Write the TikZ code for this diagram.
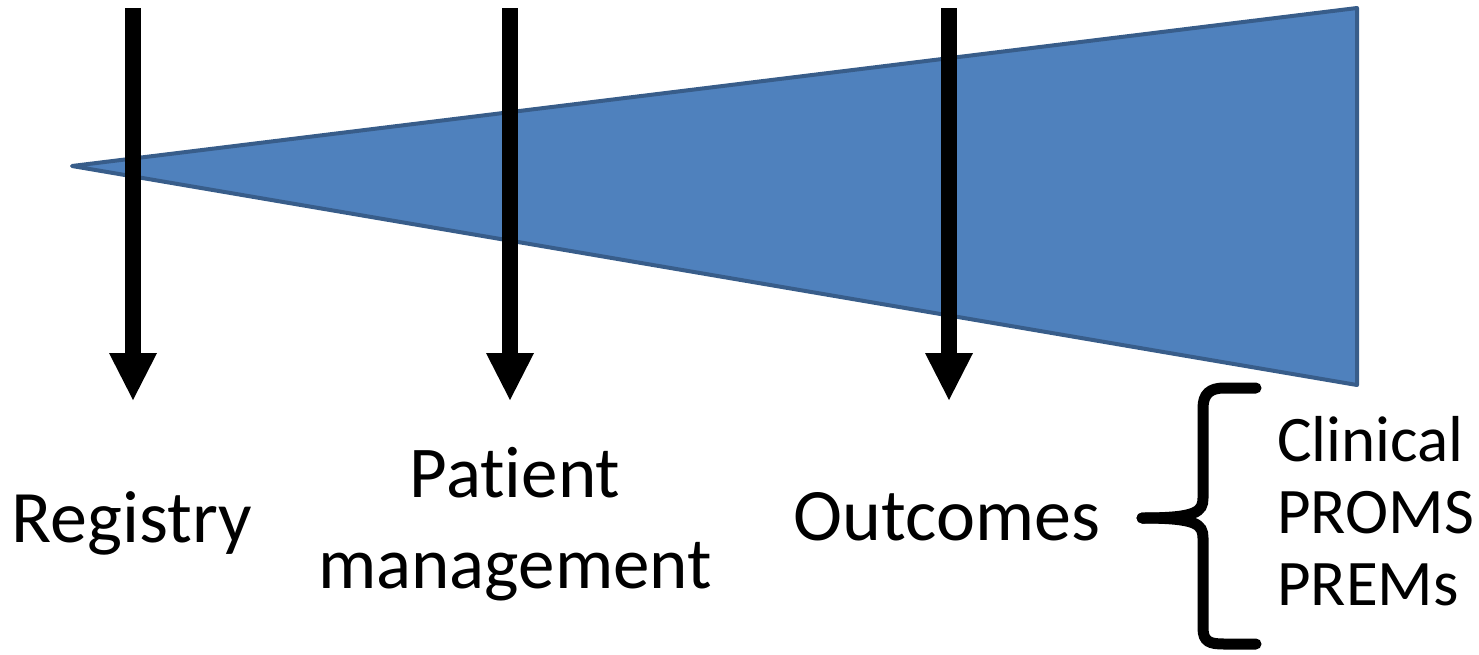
\documentclass[tikz,border=0pt]{standalone}
\usepackage{fontspec}
\setmainfont{Carlito}[Ligatures=NoCommon]
\usetikzlibrary{arrows.meta}
\definecolor{wedgefill}{HTML}{4F81BD}
\definecolor{wedgeline}{HTML}{385D8A}
\tikzset{
  bigarrow/.style={line width=16pt, -{Triangle[length=47pt,width=48pt,line width=0pt]}},
  bigtext/.style={anchor=base, inner sep=0pt, font=\fontsize{74}{88}\selectfont},
  midtext/.style={anchor=base, inner sep=0pt, align=center, font=\fontsize{73}{91}\selectfont},
  listtext/.style={anchor=base west, inner sep=0pt, align=left, font=\fontsize{65}{72}\selectfont}
}
\begin{document}
\begin{tikzpicture}[x=1pt,y=1pt]
        \useasboundingbox (0,0) rectangle (1479,-654);
        % growing wedge
        \filldraw[line width=4pt, line join=round, draw=wedgeline, fill=wedgefill]
            (72,-166) -- (1357,-8) -- (1357,-385) -- cycle;
        % arrow end points
        \coordinate (regtop) at (133,-8);
        \coordinate (regtip) at (133,-400);
        \coordinate (pattop) at (510,-8);
        \coordinate (pattip) at (510,-400);
        \coordinate (outtop) at (949,-8);
        \coordinate (outtip) at (949,-400);
        \draw[bigarrow] (regtop) -- (regtip);
        \draw[bigarrow] (pattop) -- (pattip);
        \draw[bigarrow] (outtop) -- (outtip);
        % labels (base = last line)
        \node[bigtext] (reg) at (132,-542) {Registry};
        \node[midtext] (pat) at (515,-588) {Patient\\management};
        \node[bigtext] (out) at (947,-540) {Outcomes};
        \node[listtext] (kinds) at (1277,-605) {Clinical\\PROMS\\PREMs};
        % brace
        \coordinate (bracetip) at (1142,-518);
        \draw[line width=11pt, line cap=round]
            (1256,-388) -- (1224,-388) .. controls (1210,-388) and (1203,-394) .. (1203,-408)
            -- (1203,-498) .. controls (1203,-512) and (1196,-518) .. (bracetip);
        \draw[line width=11pt, line cap=round]
            (bracetip) .. controls (1196,-518) and (1203,-524) .. (1203,-538)
            -- (1203,-628) .. controls (1203,-642) and (1210,-644) .. (1224,-644) -- (1256,-644);
\end{tikzpicture}
\end{document}
